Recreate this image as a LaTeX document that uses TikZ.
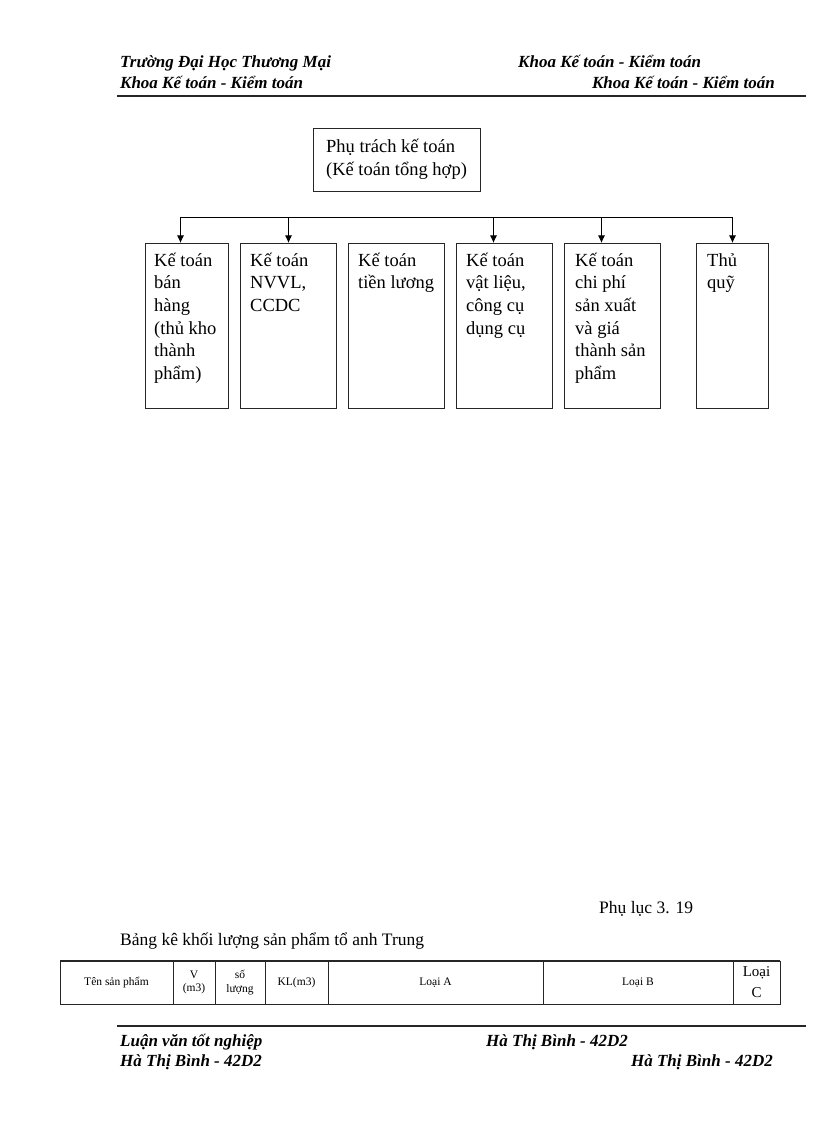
\documentclass[tikz,border=0pt]{standalone}
\usepackage{fontspec}
\setmainfont{Liberation Serif}
\usetikzlibrary{arrows.meta,calc}
\begin{document}
\begin{tikzpicture}[x=1pt,y=-1pt,
  hdr/.style={font=\fontsize{17}{20}\selectfont\bfseries\itshape, inner sep=0pt},
  orgbox/.style={draw=black!85, line width=0.9pt, minimum width=#1, minimum height=165pt, inner sep=0pt, anchor=north west},
  boxtext/.style={font=\fontsize{18.5}{22.7}\selectfont, align=left, inner sep=0pt, anchor=north west},
  arr/.style={-{Latex[length=7.5pt,width=7pt]}, line width=0.8pt},
  tbl/.style={font=\fontsize{11.5}{13.5}\selectfont, inner sep=0pt, align=center},
  rule/.style={line width=2pt, black!85}
]
\useasboundingbox (0,0) rectangle (816,1123);
% header
\node[hdr, anchor=base west] (h1) at (120,68) {Trường Đại Học Thương Mại};
\node[hdr, anchor=base west] (h2) at (518,68) {Khoa Kế toán - Kiểm toán};
\node[hdr, anchor=base west] (h3) at (120,89) {Khoa Kế toán - Kiểm toán};
\node[hdr, anchor=base east] (h4) at (775,89) {Khoa Kế toán - Kiểm toán};
\coordinate (hrA) at (117,96); \coordinate (hrB) at (806,96);
\draw[rule] (hrA) -- (hrB);
% top box
\node[draw=black!85, line width=0.9pt, minimum width=167pt, minimum height=63pt, align=left,
      font=\fontsize{18.5}{22.7}\selectfont] (top) at (396.5,159.5) {Phụ trách kế toán\\(Kế toán tổng hợp)};
% boxes
\node[orgbox=83pt] (b1) at (145,243) {};
\node[orgbox=96pt] (b2) at (240,243) {};
\node[orgbox=96pt] (b3) at (348,243) {};
\node[orgbox=96pt] (b4) at (456,243) {};
\node[orgbox=96pt] (b5) at (564,243) {};
\node[orgbox=72pt] (b6) at (696,243) {};
\node[boxtext] (t1) at ($(b1.north west)+(9,7)$) {\strut Kế toán\\bán\\hàng\\(thủ kho\\thành\\phẩm)};
\node[boxtext] (t2) at ($(b2.north west)+(10,7)$) {\strut Kế toán\\NVVL,\\CCDC};
\node[boxtext] (t3) at ($(b3.north west)+(10,7)$) {\strut Kế toán\\tiền lương};
\node[boxtext] (t4) at ($(b4.north west)+(10,7)$) {\strut Kế toán\\vật liệu,\\công cụ\\dụng cụ};
\node[boxtext] (t5) at ($(b5.north west)+(11,7)$) {\strut Kế toán\\chi phí\\sản xuất\\và giá\\thành sản\\phẩm};
\node[boxtext] (t6) at ($(b6.north west)+(11,7)$) {\strut Thủ\\quỹ};
% bus
\coordinate (k1) at (180.5,217);
\coordinate (k2) at (288.5,217);
\coordinate (k4) at (493.5,217);
\coordinate (k5) at (601.5,217);
\coordinate (k6) at (732.5,217);
\draw[line width=0.8pt] (k1) -- (k6);
\draw[arr] (k1) -- (k1 |- b1.north);
\draw[arr] (k2) -- (k2 |- b2.north);
\draw[arr] (k4) -- (k4 |- b4.north);
\draw[arr] (k5) -- (k5 |- b5.north);
\draw[arr] (k6) -- (k6 |- b6.north);
% bottom texts
\node[font=\fontsize{17.5}{20}\selectfont, inner sep=0pt, anchor=base west] (pl) at (599,913) {Phụ lục 3. 19};
\node[font=\fontsize{17.5}{20}\selectfont, inner sep=0pt, anchor=base west] (bk) at (120,945) {Bảng kê khối lượng sản phẩm tổ anh Trung};
% table
\draw[line width=0.9pt, black!85] (60,961) rectangle (780,1004);
\draw[line width=1.8pt, black!85] (60,961) -- (780,961);
\foreach \xx in {173,215,265,328,543,733} \draw[line width=0.9pt, black!85] (\xx,961) -- (\xx,1004);
\node[tbl] (c1) at (116.5,982.5) {Tên sản phẩm};
\node[tbl] (c2) at (194,982.5) {V\\(m3)};
\node[tbl] (c3) at (240,982.5) {số\\lượng};
\node[tbl] (c4) at (296.5,982.5) {KL(m3)};
\node[tbl] (c5) at (435.5,982.5) {Loại A};
\node[tbl] (c6) at (638,982.5) {Loại B};
\node[tbl, font=\fontsize{15}{21}\selectfont] (c7) at (756.5,982.5) {Loại\\C};
% footer
\coordinate (frA) at (117,1026); \coordinate (frB) at (806,1026);
\draw[rule] (frA) -- (frB);
\node[hdr, anchor=base west] (f1) at (120,1046) {Luận văn tốt nghiệp};
\node[hdr, anchor=base west] (f2) at (486,1046) {Hà Thị Bình - 42D2};
\node[hdr, anchor=base west] (f3) at (120,1066) {Hà Thị Bình - 42D2};
\node[hdr, anchor=base east] (f4) at (773,1066) {Hà Thị Bình - 42D2};
\end{tikzpicture}
\end{document}
